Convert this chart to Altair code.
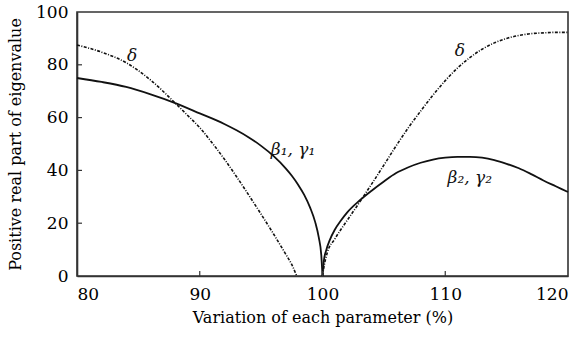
import altair as alt
import pandas as pd

# beta_1, gamma_1 branch (left of nominal)
b1_x = [80, 82, 84, 86, 88, 90, 92, 93, 94, 95, 96, 97, 97.5, 98, 98.5, 99, 99.4, 99.7, 99.9, 100]
b1_y = [75, 73.5, 71.6, 68.8, 65.5, 61.6, 57.6, 55.2, 52.5, 49.3, 45.5, 40.8, 38, 34.7, 30.8, 25.8, 20.5, 14.5, 8, 0]

# beta_2, gamma_2 branch (right of nominal)
b2_x = [100, 100.1, 100.3, 100.6, 101, 101.5, 102, 103, 104, 105, 106, 107, 108, 109, 110,
        111, 112, 113, 114, 115, 116, 117, 118, 119, 120]
b2_y = [0, 5.5, 9.7, 13.7, 17.5, 21, 24, 28.5, 32.3, 35.8, 39, 41.2, 42.9, 44.1, 44.8,
        45.1, 45.1, 44.8, 43.9, 42.5, 40.8, 38.6, 36.2, 34, 31.8]

# delta, left of nominal
dl_x = [80, 82, 84, 86, 88, 89, 90, 91, 92, 93, 94, 95, 96, 97, 97.5, 97.9]
dl_y = [87.5, 84.8, 80.8, 74.2, 65.5, 60.9, 56.2, 50.5, 44.3, 37.6, 30.6, 23.4, 16, 8.3, 4.3, 0]

# delta, right of nominal
dr_x = [100, 100.1, 100.4, 101, 102, 103, 104, 105, 106, 107, 108, 109, 110, 111, 112,
        113, 114, 115, 116, 117, 118, 119, 120]
dr_y = [0, 3, 9, 14, 21, 27.8, 34.8, 42, 49.3, 56.2, 62.5, 68.5, 74, 78.8, 82.7,
        85.9, 88.3, 90, 91.1, 91.8, 92.1, 92.3, 92.3]

# curve annotations
label_text = ["δ", "β₁, γ₁", "δ", "β₂, γ₂"]
label_x = [84.5, 97.6, 111.2, 112.0]
label_y = [83.3, 47.7, 85.2, 37.0]

x_ticks = [90, 100, 110]
y_ticks = [20, 40, 60, 80]

SERIF = "DejaVu Serif"
W, H = 491, 264

solid = pd.DataFrame(
    [{"curve": "b1", "x": a, "y": b} for a, b in zip(b1_x, b1_y)]
    + [{"curve": "b2", "x": a, "y": b} for a, b in zip(b2_x, b2_y)]
)
dashed = pd.DataFrame(
    [{"curve": "dl", "x": a, "y": b} for a, b in zip(dl_x, dl_y)]
    + [{"curve": "dr", "x": a, "y": b} for a, b in zip(dr_x, dr_y)]
)
labels = pd.DataFrame({"t": label_text, "x": label_x, "y": label_y})
xt = pd.DataFrame({"v": x_ticks})
yt = pd.DataFrame({"v": y_ticks})

xs = alt.Scale(domain=[80, 120], nice=False, zero=False)
ys = alt.Scale(domain=[0, 100], nice=False)

x_axis = alt.Axis(
    values=[80, 90, 100, 110, 120], ticks=False, grid=False,
    labelFont=SERIF, labelFontSize=17, labelColor="black", labelPadding=10,
    title="Variation of each parameter (%)", titleFont=SERIF, titleFontSize=16,
    titleFontWeight="normal", titleColor="black", titlePadding=7,
    domainColor="#333", domainWidth=1.6,
)
y_axis = alt.Axis(
    values=[0, 20, 40, 60, 80, 100], ticks=False, grid=False,
    labelFont=SERIF, labelFontSize=17, labelColor="black", labelPadding=9,
    title="Positive real part of eigenvalue", titleFont=SERIF, titleFontSize=16,
    titleFontWeight="normal", titleColor="black", titlePadding=12,
    domainColor="#333", domainWidth=1.6,
)

base_x = alt.X("x:Q", scale=xs, axis=x_axis)
base_y = alt.Y("y:Q", scale=ys, axis=y_axis)

solid_lines = alt.Chart(solid).mark_line(
    color="#111", strokeWidth=1.8, interpolate="monotone"
).encode(x=base_x, y=base_y, detail="curve:N")

dashed_lines = alt.Chart(dashed).mark_line(
    color="#111", strokeWidth=1.6, strokeDash=[3, 1.5, 1, 1.5], interpolate="monotone"
).encode(x=alt.X("x:Q", scale=xs), y=alt.Y("y:Q", scale=ys), detail="curve:N")

text = alt.Chart(labels).mark_text(
    font=SERIF, fontSize=17, fontStyle="italic", color="#111"
).encode(x=alt.X("x:Q", scale=xs), y=alt.Y("y:Q", scale=ys), text="t:N")

# inward tick marks
x_tick_marks = alt.Chart(xt).mark_rule(color="#333", strokeWidth=1.2).encode(
    x=alt.X("v:Q", scale=xs), y=alt.value(H), y2=alt.value(H - 5)
)
y_tick_marks = alt.Chart(yt).mark_rule(color="#333", strokeWidth=1.2).encode(
    y=alt.Y("v:Q", scale=ys), x=alt.value(0), x2=alt.value(5)
)

chart = alt.layer(
    solid_lines, dashed_lines, text, x_tick_marks, y_tick_marks
).properties(
    width=W, height=H,
    autosize=alt.AutoSizeParams(type="none"),
    padding={"left": 77, "top": 12, "right": 17, "bottom": 62},
    background="white",
).configure_view(
    stroke="#333", strokeWidth=1.6
)

chart.save("out.html", embed_options={"renderer": "svg", "actions": False})
